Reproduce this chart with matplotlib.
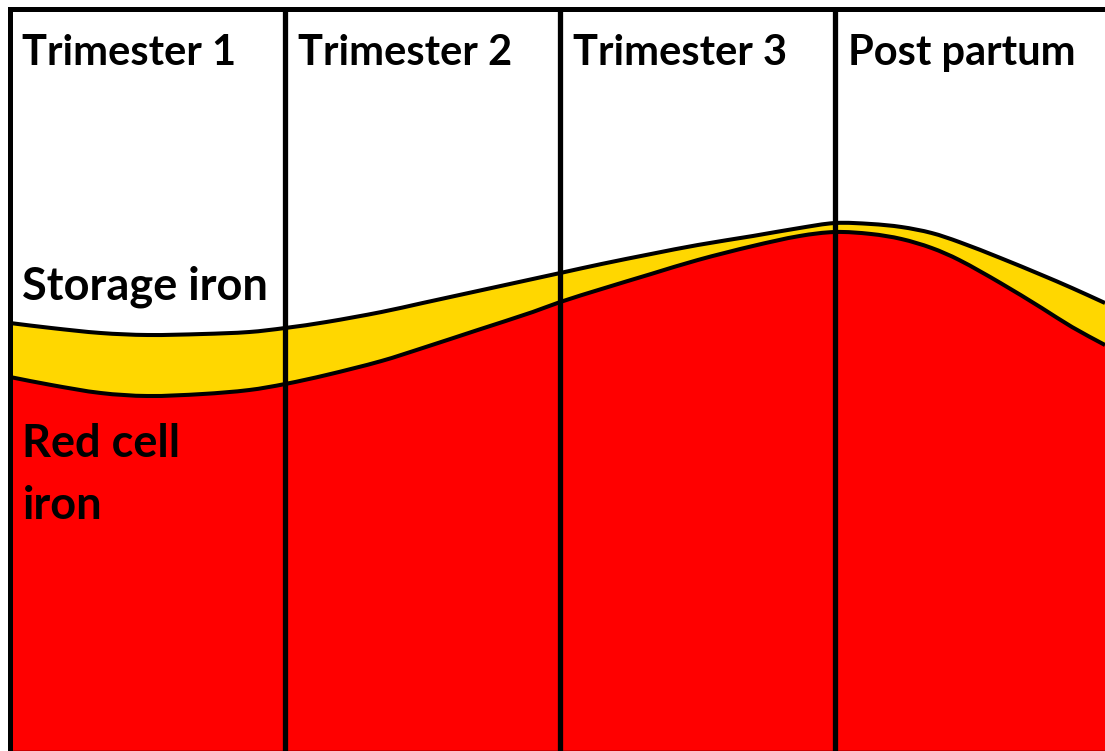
import matplotlib
matplotlib.use("Agg")
import matplotlib.pyplot as plt
from matplotlib.path import Path
from matplotlib.patches import PathPatch

# Time axis in trimester units (0 = conception, 1/2/3 = end of trimesters, >3 = post partum)
time = [0, 0.15, 0.33, 0.5, 0.7, 0.87, 1.0, 1.15, 1.35, 1.5, 1.7, 1.9, 2.0,
        2.15, 2.33, 2.5, 2.7, 2.87, 3.0, 3.13, 3.24, 3.35, 3.45, 3.6, 3.75, 3.86, 3.98]
# Total iron (red cell + storage), arbitrary units
total_iron = [428, 423, 418, 416, 417, 419, 423, 429, 439, 448, 460, 472, 478,
              487, 497, 506, 515, 523, 528, 527, 524, 518, 509, 493, 476, 463, 448]
# Red cell iron, arbitrary units
red_cell_iron = [374, 366, 358, 355, 357, 361, 367, 376, 390, 403, 421, 439, 449,
                 462, 477, 491, 505, 515, 519, 517, 512, 503, 491, 468, 443, 424, 406]

period_bounds = [1, 2, 3]
period_starts = [0, 1, 2, 3]
period_labels = ["Trimester 1", "Trimester 2", "Trimester 3", "Post partum"]


def smooth_segments(xs, ys):
    """Bezier (CURVE4) segments passing through the given points (Catmull-Rom style)."""
    n = len(xs)
    verts, codes = [], []
    def slope(i):
        a, b = max(i - 1, 0), min(i + 1, n - 1)
        return (ys[b] - ys[a]) / (xs[b] - xs[a])
    for i in range(n - 1):
        h = xs[i + 1] - xs[i]
        m0, m1 = slope(i), slope(i + 1)
        verts += [(xs[i] + h / 3, ys[i] + m0 * h / 3),
                  (xs[i + 1] - h / 3, ys[i + 1] - m1 * h / 3),
                  (xs[i + 1], ys[i + 1])]
        codes += [Path.CURVE4] * 3
    return verts, codes


W, H = 1105, 751
fig = plt.figure(figsize=(W / 100, H / 100), dpi=100)
ax = fig.add_axes([10 / W, 0, (W - 10) / W, (H - 9) / H])
ax.set_xlim(0, 3.98)
ax.set_ylim(0, 742)

RED = "#FF0000"
GOLD = "#FFD700"

x0, x1 = time[0], time[-1]
rv, rc = smooth_segments(time, red_cell_iron)
tv, tc = smooth_segments(time, total_iron)
rv_back, rc_back = smooth_segments(time[::-1], red_cell_iron[::-1])

# red area
verts = [(x0, 0), (x0, red_cell_iron[0])] + rv + [(x1, 0), (x0, 0)]
codes = [Path.MOVETO, Path.LINETO] + rc + [Path.LINETO, Path.CLOSEPOLY]
ax.add_patch(PathPatch(Path(verts, codes), facecolor=RED, lw=0, zorder=1))

# storage (yellow) area
verts = [(x0, total_iron[0])] + tv + [(x1, red_cell_iron[-1])] + rv_back + [(x0, total_iron[0])]
codes = [Path.MOVETO] + tc + [Path.LINETO] + rc_back + [Path.CLOSEPOLY]
ax.add_patch(PathPatch(Path(verts, codes), facecolor=GOLD, lw=0, zorder=1))

# outlines
for v, c, y0 in [(rv, rc, red_cell_iron[0]), (tv, tc, total_iron[0])]:
    p = Path([(x0, y0)] + v, [Path.MOVETO] + c)
    ax.add_patch(PathPatch(p, facecolor="none", edgecolor="black", lw=2.9, zorder=2))

for b in period_bounds:
    ax.axvline(b, color="black", lw=3.8, zorder=3)

for s in ["top", "left"]:
    ax.spines[s].set_linewidth(3.6)
    ax.spines[s].set_zorder(4)
ax.spines["bottom"].set_linewidth(1.0)
ax.spines["right"].set_visible(False)
ax.set_xticks([])
ax.set_yticks([])

head = dict(family=["Lato", "DejaVu Sans"], fontweight="bold", fontsize=30, color="black")
side = dict(family=["Lato", "DejaVu Sans"], fontweight="bold", fontsize=32.5, color="black")
for s, lab in zip(period_starts, period_labels):
    ax.text(s + 0.045, 698, lab, ha="left", va="center", zorder=5, **head)

ax.text(0.045, 464, "Storage iron", ha="left", va="center", zorder=5, **side)
ax.text(0.045, 307, "Red cell", ha="left", va="center", zorder=5, **side)
ax.text(0.045, 245, "iron", ha="left", va="center", zorder=5, **side)

fig.savefig("out.png", dpi=100)
